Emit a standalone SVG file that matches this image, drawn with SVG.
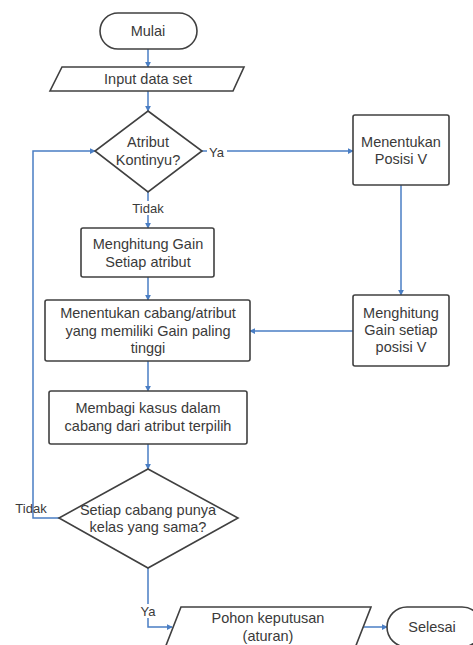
<svg xmlns="http://www.w3.org/2000/svg" width="473" height="645" viewBox="0 0 473 645">
<defs>
<style>
.shape{fill:#fff;stroke:#404040;stroke-width:1.6;}
.t{font-family:"Liberation Sans",Arial,sans-serif;font-size:14.5px;fill:#3a3a3a;text-anchor:middle;dominant-baseline:central;}
.c{fill:none;stroke:#4a7ec4;stroke-width:1.5;}
.lbl{font-family:"Liberation Sans",Arial,sans-serif;font-size:13px;fill:#3a3a3a;dominant-baseline:central;}
.bg{fill:#fff;stroke:none;}
</style>
<marker id="ah" viewBox="0 0 8 8" refX="7" refY="4" markerWidth="6" markerHeight="6" markerUnits="userSpaceOnUse" orient="auto">
<path d="M0,0 L8,4 L0,8 z" fill="#4a7ec4"/>
</marker>
</defs>
<rect width="473" height="645" fill="#fff"/>
<g id="connectors">
<line class="c" x1="148" y1="49" x2="148" y2="67" marker-end="url(#ah)"/>
<line class="c" x1="148" y1="91" x2="148" y2="111" marker-end="url(#ah)"/>
<line class="c" x1="202" y1="151" x2="353" y2="151" marker-end="url(#ah)"/>
<line class="c" x1="401" y1="185" x2="401" y2="295" marker-end="url(#ah)"/>
<line class="c" x1="353" y1="331" x2="250" y2="331" marker-end="url(#ah)"/>
<line class="c" x1="148" y1="192" x2="148" y2="228" marker-end="url(#ah)"/>
<line class="c" x1="148" y1="277" x2="148" y2="300" marker-end="url(#ah)"/>
<line class="c" x1="148" y1="361" x2="148" y2="391" marker-end="url(#ah)"/>
<line class="c" x1="148" y1="444" x2="148" y2="469" marker-end="url(#ah)"/>
<polyline class="c" points="60,518 33,518 33,151 95,151" marker-end="url(#ah)"/>
<polyline class="c" points="148,568 148,627 172,627" marker-end="url(#ah)"/>
<line class="c" x1="363" y1="627" x2="387" y2="627" marker-end="url(#ah)"/>
<rect class="bg" x="207" y="145" width="20" height="14"/>
<text class="lbl" x="209" y="152">Ya</text>
<rect class="bg" x="132" y="201" width="33" height="14"/>
<text class="lbl" x="148" y="208" text-anchor="middle">Tidak</text>
<text class="lbl" x="31" y="508" text-anchor="middle">Tidak</text>
<rect class="bg" x="140" y="604" width="17" height="14"/>
<text class="lbl" x="148" y="611" text-anchor="middle">Ya</text>
</g>
<g id="mulai">
<rect class="shape" x="100" y="13" width="97" height="36" rx="18"/>
<text class="t" x="148" y="31">Mulai</text>
</g>
<g id="input">
<polygon class="shape" points="62,67 244,67 233,91 50,91"/>
<text class="t" x="148" y="79">Input data set</text>
</g>
<g id="atribut-kontinyu">
<polygon class="shape" points="148,111 202,151 148,192 95,151"/>
<text class="t" x="148" y="142">Atribut</text>
<text class="t" x="148" y="160">Kontinyu?</text>
</g>
<g id="menentukan-posisi">
<rect class="shape" x="353" y="115" width="96" height="70" rx="2"/>
<text class="t" x="401" y="142">Menentukan</text>
<text class="t" x="401" y="159">Posisi V</text>
</g>
<g id="menghitung-posisi">
<rect class="shape" x="353" y="295" width="96" height="71" rx="2"/>
<text class="t" x="401" y="313">Menghitung</text>
<text class="t" x="401" y="330">Gain setiap</text>
<text class="t" x="401" y="347">posisi V</text>
</g>
<g id="menghitung-gain">
<rect class="shape" x="81" y="228" width="133" height="49" rx="2"/>
<text class="t" x="148" y="244">Menghitung Gain</text>
<text class="t" x="148" y="262">Setiap atribut</text>
</g>
<g id="menentukan-cabang">
<rect class="shape" x="45" y="300" width="205" height="61" rx="2"/>
<text class="t" x="148" y="313">Menentukan cabang/atribut</text>
<text class="t" x="148" y="331">yang memiliki Gain paling</text>
<text class="t" x="148" y="348">tinggi</text>
</g>
<g id="membagi">
<rect class="shape" x="49" y="391" width="198" height="53" rx="2"/>
<text class="t" x="148" y="408">Membagi kasus dalam</text>
<text class="t" x="148" y="426">cabang dari atribut terpilih</text>
</g>
<g id="setiap-cabang">
<polygon class="shape" points="148,469 238,518 148,568 59,518"/>
<text class="t" x="148" y="510">Setiap cabang punya</text>
<text class="t" x="148" y="527">kelas yang sama?</text>
</g>
<g id="pohon">
<polygon class="shape" points="181,607 371,607 355,648 165,648"/>
<text class="t" x="268" y="618">Pohon keputusan</text>
<text class="t" x="268" y="636">(aturan)</text>
</g>
<g id="selesai">
<rect class="shape" x="387" y="607" width="95" height="40" rx="20"/>
<text class="t" x="432" y="627">Selesai</text>
</g>
</svg>
